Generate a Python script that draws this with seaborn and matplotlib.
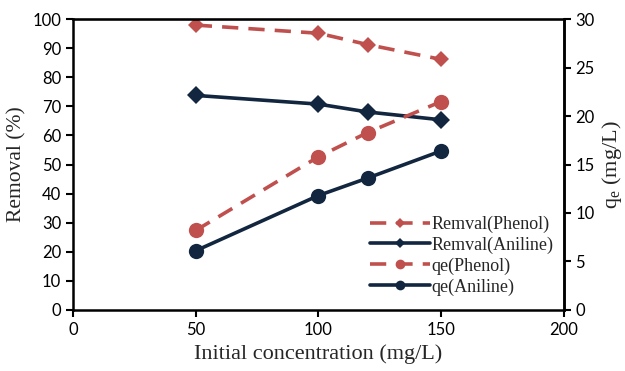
import matplotlib
matplotlib.use("Agg")
import matplotlib.pyplot as plt
import seaborn as sns
from matplotlib.lines import Line2D

conc = [50, 100, 120, 150]
removal_phenol = [98.0, 95.2, 91.3, 86.2]
removal_aniline = [73.8, 70.8, 68.1, 65.4]
qe_phenol = [8.2, 15.8, 18.3, 21.5]
qe_aniline = [6.1, 11.8, 13.6, 16.4]

red = '#C0504D'
navy = '#12263F'
dash = (0, (4.5, 2.8))

sns.set_style("white")
plt.rcParams['font.family'] = ['Lato', 'DejaVu Sans']

fig, ax = plt.subplots(figsize=(6.25, 3.71), dpi=100)
ax2 = ax.twinx()

sns.lineplot(x=conc, y=removal_phenol, ax=ax, color=red, marker='D', markersize=8,
             linewidth=2.6, markeredgewidth=0, linestyle=dash)
sns.lineplot(x=conc, y=removal_aniline, ax=ax, color=navy, marker='D', markersize=9,
             linewidth=2.6, markeredgewidth=0)
sns.lineplot(x=conc, y=qe_phenol, ax=ax2, color=red, marker='o', markersize=11,
             linewidth=2.6, markeredgewidth=0, linestyle=dash)
sns.lineplot(x=conc, y=qe_aniline, ax=ax2, color=navy, marker='o', markersize=11,
             linewidth=2.6, markeredgewidth=0)

ax.set_xlim(0, 200)
ax.set_ylim(0, 100)
ax2.set_ylim(0, 30)
ax.set_xticks(range(0, 201, 50))
ax.set_yticks(range(0, 101, 10))
ax2.set_yticks(range(0, 31, 5))

for a in (ax, ax2):
    for s in a.spines.values():
        s.set_color('black')
        s.set_linewidth(1.8)
    a.tick_params(direction='out', length=5, width=1.5, labelsize=12, colors='black')
ax2.spines['left'].set_visible(False)
ax2.spines['bottom'].set_visible(False)
ax.spines['top'].set_linewidth(1.0)
ax.tick_params(left=True, bottom=True)
ax2.tick_params(right=True)

serif = ['Liberation Serif', 'DejaVu Serif']
ax.set_xlabel('Initial concentration (mg/L)', fontsize=16, family=serif, labelpad=5)
ax.set_ylabel('Removal (%)', fontsize=15.5, family=serif, labelpad=4)
ax2.set_ylabel('q$_\\mathregular{e}$ (mg/L)', fontsize=16, family=serif, labelpad=4)

handles = [
    Line2D([], [], color=red, lw=2.6, ls=dash, marker='D', ms=5, mew=0),
    Line2D([], [], color=navy, lw=2.6, marker='D', ms=5, mew=0),
    Line2D([], [], color=red, lw=2.6, ls=dash, marker='o', ms=7, mew=0),
    Line2D([], [], color=navy, lw=2.6, marker='o', ms=7, mew=0),
]
labels = ['Remval(Phenol)', 'Remval(Aniline)', 'qe(Phenol)', 'qe(Aniline)']
ax2.legend(handles, labels, loc='lower right', bbox_to_anchor=(1.005, 0.005),
           frameon=False, prop={'family': serif, 'size': 13}, handlelength=3.3,
           handletextpad=0.1, labelspacing=0.2, borderaxespad=0.3)

fig.subplots_adjust(left=0.117, right=0.902, top=0.948, bottom=0.165)
fig.savefig('out.png', dpi=100)
